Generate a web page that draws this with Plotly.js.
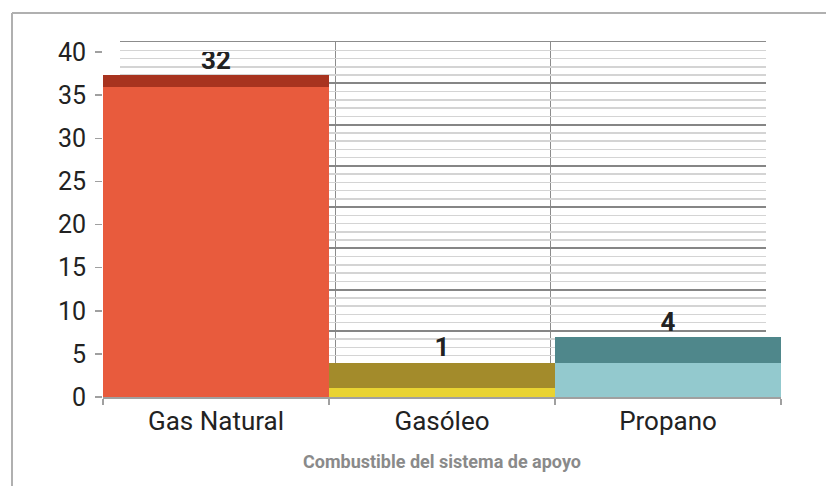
<!DOCTYPE html>
<html>
<head>
<meta charset="utf-8">
<script src="https://cdn.plot.ly/plotly-3.0.1.min.js"></script>
<style>
  html, body { margin: 0; padding: 0; background: #ffffff; }
  #chart { width: 826px; height: 486px; }
</style>
</head>
<body>
<div id="chart"></div>
<script>
// ---- Data ----
const categories = ['Gas Natural', 'Gasóleo', 'Propano'];
const values = [32, 1, 4];                 // printed value labels
const frontHeights = [36, 1, 4];           // drawn height of each bar's front face
const topDepth = [1.3, 3, 2.9];            // visible height of each bar's 3D top face
const frontColors = ['#E85B3D', '#E9D332', '#93C9CE'];
const topColors = ['#A8331F', '#A38B2B', '#4F878B'];
const yTicks = [0, 5, 10, 15, 20, 25, 30, 35, 40];
const xTitle = 'Combustible del sistema de apoyo';

const labelY = frontHeights.map((h, i) => h + topDepth[i]);
const FONT = 'Roboto, "DejaVu Sans", sans-serif';

// plot box: x 103..781, y 42..397 (pixels)
const W = 826, H = 486;
const L = 103, R = 781, T = 42, B = 397;
const pw = R - L, ph = B - T;
const wallX = [(120 - L) / pw, (766 - L) / pw];
const wallY = [(B - 372) / ph, 1];

const traces = [
  // invisible traces anchoring the back-wall subplot (minor + major grid)
  { x: [0.5], y: [0], type: 'scatter', mode: 'markers', marker: { opacity: 0 },
    xaxis: 'x', yaxis: 'y', hoverinfo: 'skip', showlegend: false },
  { x: [0.5], y: [0], type: 'scatter', mode: 'markers', marker: { opacity: 0 },
    xaxis: 'x', yaxis: 'y3', hoverinfo: 'skip', showlegend: false },
  { x: categories, y: frontHeights, type: 'bar', xaxis: 'x2', yaxis: 'y2',
    marker: { color: frontColors, line: { width: 0 } }, hoverinfo: 'skip', showlegend: false },
  { x: categories, y: topDepth, type: 'bar', xaxis: 'x2', yaxis: 'y2',
    marker: { color: topColors, line: { width: 0 } }, hoverinfo: 'skip', showlegend: false },
  { x: categories, y: labelY, type: 'scatter', mode: 'text', xaxis: 'x2', yaxis: 'y2',
    text: values.map(String), textposition: 'top center',
    textfont: { family: FONT, size: 26, color: '#222222', weight: 'bold' },
    hoverinfo: 'skip', showlegend: false }
];

const layout = {
  width: W, height: H,
  margin: { l: L, r: W - R, t: T, b: H - B, pad: 0 },
  paper_bgcolor: '#ffffff',
  plot_bgcolor: 'rgba(0,0,0,0)',
  barmode: 'stack',
  bargap: 0,
  showlegend: false,
  font: { family: FONT, color: '#222222' },
  // back wall grid
  xaxis: {
    domain: wallX,
    range: [0, 3], dtick: 1, tick0: 0,
    showgrid: true, gridcolor: '#8c8c8c', gridwidth: 1.5,
    showticklabels: false, ticks: '', zeroline: false,
    showline: true, linecolor: '#8c8c8c', linewidth: 1.5, mirror: true,
    fixedrange: true
  },
  yaxis: {
    domain: wallY,
    range: [0, 40], dtick: 1, tick0: 0,
    showgrid: true, gridcolor: '#d4d4d4', gridwidth: 1.5,
    showticklabels: false, ticks: '', zeroline: false, showline: false,
    fixedrange: true
  },
  yaxis3: {
    overlaying: 'y', anchor: 'x',
    range: [0, 40], dtick: 5, tick0: 0,
    showgrid: true, gridcolor: '#868686', gridwidth: 2,
    showticklabels: false, ticks: '', zeroline: false, showline: false,
    fixedrange: true
  },
  // front axes with bars
  xaxis2: {
    domain: [0, 1], anchor: 'y2',
    type: 'category', range: [-0.5, 2.5],
    showgrid: false, zeroline: false,
    showline: true, linecolor: '#a0a0a0', linewidth: 1.5,
    ticks: 'outside', tickson: 'boundaries', ticklen: 6, tickcolor: '#a0a0a0', tickwidth: 1.5,
    tickfont: { family: FONT, size: 26, color: '#222222' },
    title: { text: xTitle, standoff: 20,
      font: { family: FONT, size: 18, color: '#8a8a8a', weight: 'bold' } },
    fixedrange: true
  },
  yaxis2: {
    domain: [0, (B - 52) / ph], anchor: 'x2',
    range: [0, 40], tickvals: yTicks,
    showgrid: false, zeroline: false, showline: false,
    ticks: 'outside', ticklen: 7, tickcolor: '#a0a0a0', tickwidth: 1.5,
    ticklabelstandoff: 4,
    tickfont: { family: FONT, size: 25, color: '#222222' },
    fixedrange: true
  },
  shapes: [
    { type: 'line', xref: 'paper', yref: 'paper',
      x0: (12 - L) / pw, x1: (826 - L) / pw, y0: (B - 13) / ph, y1: (B - 13) / ph,
      line: { color: '#b0b0b0', width: 2 } },
    { type: 'line', xref: 'paper', yref: 'paper',
      x0: (12 - L) / pw, x1: (12 - L) / pw, y0: (B - 13) / ph, y1: (B - 486) / ph,
      line: { color: '#b0b0b0', width: 2 } }
  ]
};

Plotly.newPlot('chart', traces, layout, { displayModeBar: false, staticPlot: true });
</script>
</body>
</html>
